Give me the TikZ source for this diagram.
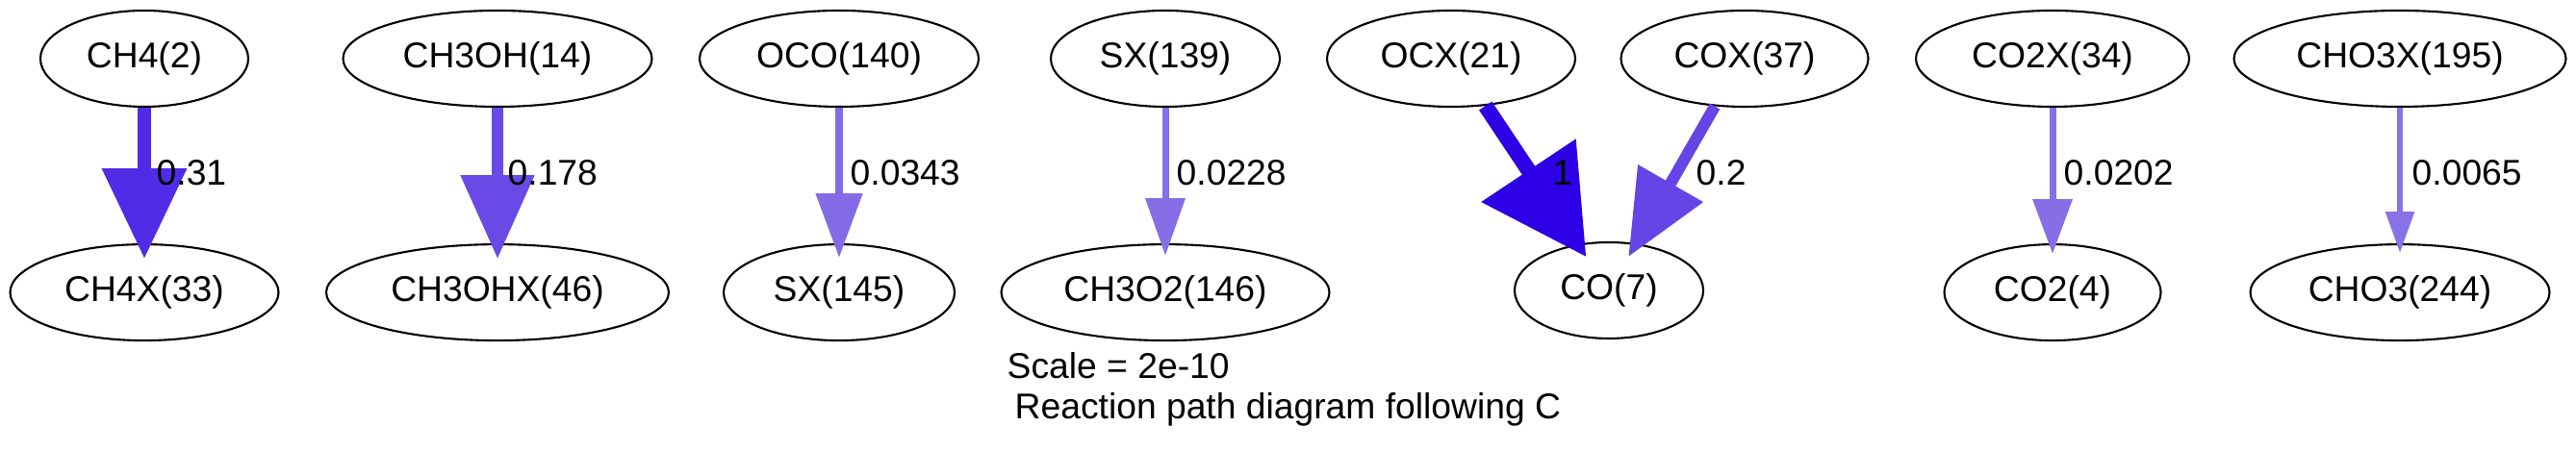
\documentclass[tikz,border=0pt]{standalone}
\usepackage{fontspec}
\setmainfont{Liberation Sans}
\usepackage{xcolor}
\usepackage{tikz}
\usetikzlibrary{positioning, arrows.meta, shapes.geometric}
\definecolor{fluxOne}{RGB}{46,0,230}
\definecolor{fluxCHfour}{RGB}{81,44,230}
\definecolor{fluxMeOH}{RGB}{105,74,230}
\definecolor{fluxCOX}{RGB}{101,69,230}
\definecolor{fluxOCO}{RGB}{131,107,230}
\definecolor{fluxSX}{RGB}{134,110,230}
\definecolor{fluxCOtwo}{RGB}{134,110,230}
\definecolor{fluxCHOthree}{RGB}{137,113,230}
\tikzset{
    species/.style={ellipse, draw=black, line width=0.6pt, inner sep=1pt, minimum height=1cm, font=\fontsize{10.6}{12}\selectfont},
    flux/.style={anchor=west, inner sep=0pt, font=\fontsize{10.6}{12}\selectfont},
    rxn/.style n args={4}{line width=#1, draw=#2, fill=#2, -{Triangle[length=#3, width=#4]}},
    caption/.style={anchor=base west, inner sep=0pt, font=\fontsize{10.6}{12}\selectfont}
}
\begin{document}
\begin{tikzpicture}
    \useasboundingbox (0,0) rectangle (26.77,4.69);
    % Reactants
    \node[species, minimum width=2.16cm] (CH4) at (1.50,4.08) {CH4(2)};
    \node[species, minimum width=3.21cm] (CH3OH) at (5.17,4.08) {CH3OH(14)};
    \node[species, minimum width=2.90cm] (OCO) at (8.72,4.08) {OCO(140)};
    \node[species, minimum width=2.38cm] (SXa) at (12.11,4.08) {SX(139)};
    \node[species, minimum width=2.58cm] (OCX) at (15.08,4.08) {OCX(21)};
    \node[species, minimum width=2.57cm] (COX) at (18.13,4.08) {COX(37)};
    \node[species, minimum width=2.84cm] (CO2X) at (21.33,4.08) {CO2X(34)};
    \node[species, minimum width=3.45cm] (CHO3X) at (24.94,4.08) {CHO3X(195)};

    % Products
    \node[species, minimum width=2.79cm, below=1.41cm of CH4] (CH4X) {CH4X(33)};
    \node[species, minimum width=3.56cm, below=1.41cm of CH3OH] (CH3OHX) {CH3OHX(46)};
    \node[species, minimum width=2.40cm, below=1.41cm of OCO] (SXb) {SX(145)};
    \node[species, minimum width=3.41cm, below=1.41cm of SXa] (CH3O2) {CH3O2(146)};
    \node[species, minimum width=1.96cm] (CO) at (16.72,1.67) {CO(7)};
    \node[species, minimum width=2.25cm, below=1.41cm of CO2X] (CO2) {CO2(4)};
    \node[species, minimum width=3.11cm, below=1.41cm of CHO3X] (CHO3) {CHO3(244)};

    % Fluxes
    \draw[rxn={0.14cm}{fluxCHfour}{0.94cm}{0.85cm}, shorten >=-0.16cm] (CH4) -- (CH4X);
    \draw[rxn={0.12cm}{fluxMeOH}{0.87cm}{0.74cm}, shorten >=-0.16cm] (CH3OH) -- (CH3OHX);
    \draw[rxn={0.08cm}{fluxOCO}{0.67cm}{0.47cm}, shorten >=-0.15cm] (OCO) -- (SXb);
    \draw[rxn={0.07cm}{fluxSX}{0.60cm}{0.40cm}, shorten >=-0.13cm] (SXa) -- (CH3O2);
    \draw[rxn={0.16cm}{fluxOne}{1.08cm}{1.14cm}, shorten >=-0.16cm] (OCX.-54) -- (CO.124);
    \draw[rxn={0.12cm}{fluxCOX}{0.88cm}{0.75cm}, shorten >=-0.16cm] (COX.-122) -- (CO.60);
    \draw[rxn={0.07cm}{fluxCOtwo}{0.57cm}{0.40cm}, shorten >=-0.11cm] (CO2X) -- (CO2);
    \draw[rxn={0.06cm}{fluxCHOthree}{0.43cm}{0.29cm}, shorten >=-0.10cm] (CHO3X) -- (CHO3);

    \node[flux] (lCH4) at (1.62,2.89) {0.31};
    \node[flux] (lCH3OH) at (5.27,2.89) {0.178};
    \node[flux] (lOCO) at (8.83,2.89) {0.0343};
    \node[flux] (lSX) at (12.22,2.89) {0.0228};
    \node[flux] (lOCX) at (16.13,2.89) {1};
    \node[flux] (lCOX) at (17.62,2.89) {0.2};
    \node[flux] (lCO2X) at (21.44,2.89) {0.0202};
    \node[flux] (lCHO3X) at (25.06,2.89) {0.0065};

    \node[caption] (scale) at (10.46,0.75) {Scale = 2e-10};
    \node[caption] (title) at (10.54,0.33) {Reaction path diagram following C};
\end{tikzpicture}
\end{document}
